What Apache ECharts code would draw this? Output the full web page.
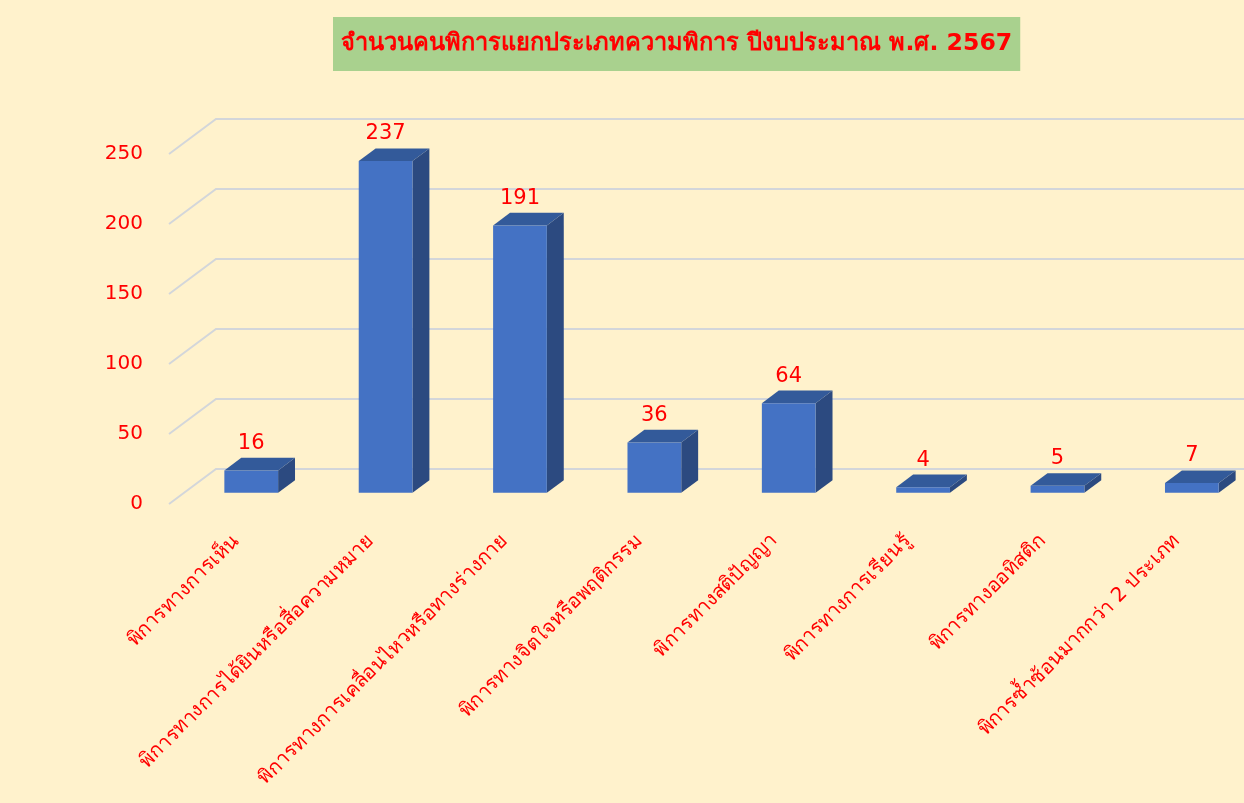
<!DOCTYPE html>
<html>
<head>
<meta charset="utf-8">
<script src="https://cdn.jsdelivr.net/npm/echarts@6/dist/echarts.min.js"></script>
<style>
  html, body { margin: 0; padding: 0; background: #FFF2CC; }
  #chart { width: 1244px; height: 803px; }
</style>
</head>
<body>
<div id="chart"></div>
<script>
let categories = [
  'พิการทางการเห็น',
  'พิการทางการได้ยินหรือสื่อความหมาย',
  'พิการทางการเคลื่อนไหวหรือทางร่างกาย',
  'พิการทางจิตใจหรือพฤติกรรม',
  'พิการทางสติปัญญา',
  'พิการทางการเรียนรู้',
  'พิการทางออทิสติก',
  'พิการซ้ำซ้อนมากกว่า 2 ประเภท'
]
let values = [16, 237, 191, 36, 64, 4, 5, 7]
let yTicks = [0, 50, 100, 150, 200, 250]

let font = 'Tahoma, "DejaVu Sans", "Noto Sans", sans-serif'
let red = '#FF0000'
// floor depth in pixels, bars sit in the middle of it
let depth = [47, -35]
let f0 = 0.32, f1 = 0.68

let myChart = echarts.init(document.getElementById('chart'))

function renderGrid(params, api){
  let cs = params.coordSys
  let y = api.coord([0, api.value(0)])[1]
  let left = cs.x, right = cs.x + cs.width
  return {
    type: 'polyline',
    shape: { points: [[left, y], [left + depth[0], y + depth[1]], [right + depth[0], y + depth[1]]] },
    style: { stroke: '#D3D6DA', lineWidth: 2, fill: null }
  }
}

function renderBar(params, api){
  let base = api.coord([api.value(0), 0])
  let top = api.coord([api.value(0), api.value(1)])
  let bw = api.size([1, 0])[0] * 0.4
  let x0 = base[0] - bw / 2 + depth[0] * f0
  let x1 = x0 + bw
  let yt = top[1] + depth[1] * f0
  let yb = base[1] + depth[1] * f0
  let dx = depth[0] * (f1 - f0), dy = depth[1] * (f1 - f0)
  return {
    type: 'group',
    children: [
      { type: 'polygon', shape: { points: [[x1, yt], [x1 + dx, yt + dy], [x1 + dx, yb + dy], [x1, yb]] },
        style: { fill: '#2C4A80' } },
      { type: 'polygon', shape: { points: [[x0, yt], [x0 + dx, yt + dy], [x1 + dx, yt + dy], [x1, yt]] },
        style: { fill: '#335A9A' } },
      { type: 'rect', shape: { x: x0, y: yt, width: bw, height: yb - yt },
        style: { fill: '#4472C4' } },
      { type: 'text', x: (x0 + x1) / 2, y: yt + dy - 4,
        style: { text: String(api.value(1)), fill: red, font: '21px ' + font, align: 'center', verticalAlign: 'bottom' } }
    ]
  }
}

let option = {
  backgroundColor: '#FFF2CC',
  title: {
    text: 'จำนวนคนพิการแยกประเภทความพิการ ปีงบประมาณ พ.ศ. 2567',
    left: 333,
    top: 17,
    padding: [15, 8, 15, 8],
    backgroundColor: '#A9D18E',
    textStyle: { color: red, fontSize: 23.6, fontWeight: 'bold', fontFamily: font }
  },
  grid: { left: 169, right: 0, top: 154, bottom: 299, containLabel: false },
  xAxis: {
    type: 'category',
    data: categories,
    axisLine: { show: false },
    axisTick: { show: false },
    axisLabel: { interval: 0, rotate: 45, margin: 34, color: red, fontSize: 20, fontFamily: font }
  },
  yAxis: {
    type: 'value',
    min: 0,
    max: 250,
    interval: 50,
    splitLine: { show: false },
    axisLine: { show: false },
    axisTick: { show: false },
    axisLabel: { margin: 26, color: red, fontSize: 20, fontFamily: font }
  },
  series: [
    {
      type: 'custom',
      renderItem: renderGrid,
      data: yTicks.map(v => [v]),
      encode: { y: 0 },
      silent: true,
      z: 1
    },
    {
      type: 'custom',
      renderItem: renderBar,
      data: values.map((v, i) => [i, v]),
      encode: { x: 0, y: 1 },
      z: 2
    }
  ]
}
myChart.setOption(option)
</script>
</body>
</html>
